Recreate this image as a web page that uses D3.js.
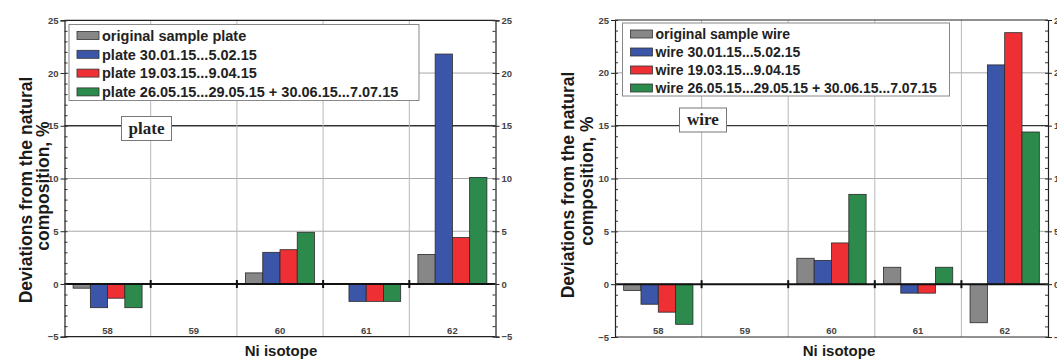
<!DOCTYPE html>
<html><head><meta charset="utf-8">
<script src="https://cdn.jsdelivr.net/npm/d3@7"></script>
<style>body{margin:0;background:#fff}svg{display:block}</style>
</head><body>
<svg id="c" width="1057" height="360"></svg>
<script>
const categories = ["58", "59", "60", "61", "62"];
const yTicks = [-5, 0, 5, 10, 15, 20, 25];
const plateNames = ["original sample plate", "plate 30.01.15...5.02.15", "plate 19.03.15...9.04.15", "plate 26.05.15...29.05.15 + 30.06.15...7.07.15"];
const wireNames = ["original sample wire", "wire 30.01.15...5.02.15", "wire 19.03.15...9.04.15", "wire 26.05.15...29.05.15 + 30.06.15...7.07.15"];
const plateOriginal = [-0.4, 0, 1.05, 0, 2.8];
const plateJan = [-2.25, 0, 3.0, -1.65, 21.8];
const plateMar = [-1.35, 0, 3.25, -1.65, 4.4];
const plateMay = [-2.25, 0, 4.9, -1.65, 10.1];
const wireOriginal = [-0.6, 0, 2.45, 1.6, -3.65];
const wireJan = [-1.9, 0, 2.25, -0.85, 20.75];
const wireMar = [-2.65, 0, 3.9, -0.85, 23.8];
const wireMay = [-3.8, 0, 8.5, 1.6, 14.4];
const colors = ["#878787", "#3b55a8", "#ee3035", "#2b8a4c"];

const svg = d3.select("#c");
const FONT = "'Liberation Sans', Arial, sans-serif";

function panel(cfg) {
  const g = svg.append("g");
  const x0 = d3.scaleBand().domain(categories).range([cfg.x0, cfg.x1]).padding(0);
  const x1 = d3.scaleBand().domain(d3.range(4)).range([0, x0.bandwidth()]).paddingInner(0).paddingOuter(0.5);
  const y = d3.scaleLinear().domain([-5, 25]).range([cfg.yb, cfg.yt]);

  // horizontal grid
  g.selectAll(".hg").data([5, 10, 15, 20]).join("line")
    .attr("x1", cfg.x0).attr("x2", cfg.x1).attr("y1", d => y(d)).attr("y2", d => y(d))
    .attr("stroke", d => d === 15 ? "#333" : "#a8a8a8").attr("stroke-width", d => d === 15 ? 1.4 : 1);
  // vertical dividers
  g.selectAll(".vg").data(categories.slice(1)).join("line")
    .attr("x1", d => x0(d)).attr("x2", d => x0(d)).attr("y1", cfg.yt).attr("y2", cfg.yb)
    .attr("stroke", "#b8b8b8").attr("stroke-width", 1);

  // bars
  const rows = [];
  cfg.series.forEach((arr, si) => arr.forEach((v, ci) => { if (v !== 0) rows.push({ si, c: categories[ci], v }); }));
  g.selectAll(".bar").data(rows).join("rect")
    .attr("x", d => x0(d.c) + x1(d.si)).attr("width", x1.bandwidth())
    .attr("y", d => y(Math.max(0, d.v))).attr("height", d => Math.abs(y(d.v) - y(0)))
    .attr("fill", d => colors[d.si]).attr("stroke", "#2a2a2a").attr("stroke-width", 0.8);

  // zero line
  g.append("line").attr("x1", cfg.x0).attr("x2", cfg.x1).attr("y1", y(0)).attr("y2", y(0))
    .attr("stroke", "#111").attr("stroke-width", 2);
  g.selectAll(".zt").data(categories.slice(1)).join("line")
    .attr("x1", d => x0(d)).attr("x2", d => x0(d)).attr("y1", y(0) - 4).attr("y2", y(0) + 4)
    .attr("stroke", "#111").attr("stroke-width", 2);

  // frame top and bottom
  g.append("line").attr("x1", cfg.x0).attr("x2", cfg.x1).attr("y1", y(25)).attr("y2", y(25)).attr("stroke", "#222").attr("stroke-width", 1.2);
  g.append("line").attr("x1", cfg.x0).attr("x2", cfg.x1).attr("y1", y(-5)).attr("y2", y(-5)).attr("stroke", "#222").attr("stroke-width", 1.2);

  // axes
  const minor = d3.range(-5, 26, 1);
  const left = d3.axisLeft(y).tickValues(yTicks).tickSize(4).tickPadding(2).tickFormat(d3.format("d"));
  const right = d3.axisRight(y).tickValues(yTicks).tickSize(4).tickPadding(2).tickFormat(d3.format("d"));
  const gl = g.append("g").attr("transform", `translate(${cfg.x0},0)`).call(left);
  const gr = g.append("g").attr("transform", `translate(${cfg.x1},0)`).call(right);
  [gl, gr].forEach(a => {
    a.select(".domain").attr("stroke", "#222").attr("stroke-width", 1.2);
    a.selectAll(".tick line").attr("stroke", "#222");
    a.selectAll("text").attr("font-family", FONT).attr("font-size", 9.5).attr("font-weight", "bold").attr("fill", "#444");
  });
  const gl2 = g.append("g").attr("transform", `translate(${cfg.x0},0)`).call(d3.axisRight(y).tickValues(minor).tickSize(3).tickFormat(""));
  const gr2 = g.append("g").attr("transform", `translate(${cfg.x1},0)`).call(d3.axisLeft(y).tickValues(minor).tickSize(3).tickFormat(""));
  [gl2, gr2].forEach(a => { a.select(".domain").remove(); a.selectAll(".tick line").attr("stroke", "#333"); });

  // category labels
  g.selectAll(".cl").data(categories).join("text")
    .attr("x", d => x0(d) + x0.bandwidth() / 2).attr("y", y(-5) - 3)
    .attr("text-anchor", "middle").attr("font-family", FONT).attr("font-size", 9.5).attr("font-weight", "bold").attr("fill", "#444")
    .text(d => d);

  // legend
  const lg = g.append("g");
  lg.append("rect").attr("x", cfg.legX).attr("y", cfg.legY).attr("width", cfg.legW).attr("height", cfg.legH)
    .attr("fill", "#fff").attr("stroke", "#888").attr("stroke-width", 1);
  cfg.names.forEach((n, i) => {
    const cy = cfg.legY + 11 + i * cfg.legStep;
    lg.append("rect").attr("x", cfg.legX + 8).attr("y", cy - 4).attr("width", 22).attr("height", 8)
      .attr("fill", colors[i]).attr("stroke", "#333").attr("stroke-width", 0.8);
    lg.append("text").attr("x", cfg.legX + 33).attr("y", cy + cfg.legFont * 0.36)
      .attr("font-family", FONT).attr("font-size", cfg.legFont).attr("font-weight", "bold").attr("fill", "#222").text(n);
  });

  // label box
  const lb = g.append("g");
  lb.append("rect").attr("x", cfg.boxX).attr("y", cfg.boxY).attr("width", cfg.boxW).attr("height", 24)
    .attr("fill", "#fff").attr("stroke", "#777").attr("stroke-width", 1);
  lb.append("text").attr("x", cfg.boxX + cfg.boxW / 2).attr("y", cfg.boxY + 17).attr("text-anchor", "middle")
    .attr("font-family", "'Liberation Serif', 'Times New Roman', serif").attr("font-size", 17).attr("font-weight", "bold")
    .attr("fill", "#222").text(cfg.label);

  // y title
  const yt = g.append("g").attr("font-family", FONT).attr("font-size", 17.5).attr("font-weight", "bold").attr("fill", "#1a1a1a").attr("text-anchor", "middle");
  yt.append("text").attr("transform", `translate(${cfg.yt1x},${cfg.yt1y}) rotate(-90)`).text("Deviations from the natural");
  yt.append("text").attr("transform", `translate(${cfg.yt2x},${cfg.yt2y}) rotate(-90)`).text("composition, %");

  // x title
  g.append("text").attr("x", cfg.xtx).attr("y", 356).attr("text-anchor", "middle")
    .attr("font-family", FONT).attr("font-size", 15).attr("font-weight", "bold").attr("fill", "#1a1a1a").text("Ni isotope");
}

panel({
  x0: 64.5, x1: 495.5, yt: 20.3, yb: 336.7,
  series: [plateOriginal, plateJan, plateMar, plateMay], names: plateNames,
  legX: 69, legY: 24.5, legW: 350, legH: 76, legStep: 18.8, legFont: 14.5,
  boxX: 121.5, boxY: 116.5, boxW: 50, label: "plate",
  yt1x: 32, yt1y: 190, yt2x: 49, yt2y: 186, xtx: 281
});
panel({
  x0: 615, x1: 1048, yt: 20, yb: 337,
  series: [wireOriginal, wireJan, wireMar, wireMay], names: wireNames,
  legX: 622.5, legY: 23, legW: 327, legH: 73, legStep: 18, legFont: 14,
  boxX: 679.5, boxY: 108, boxW: 47, label: "wire",
  yt1x: 574, yt1y: 185, yt2x: 593, yt2y: 181, xtx: 839
});
</script>
</body></html>
